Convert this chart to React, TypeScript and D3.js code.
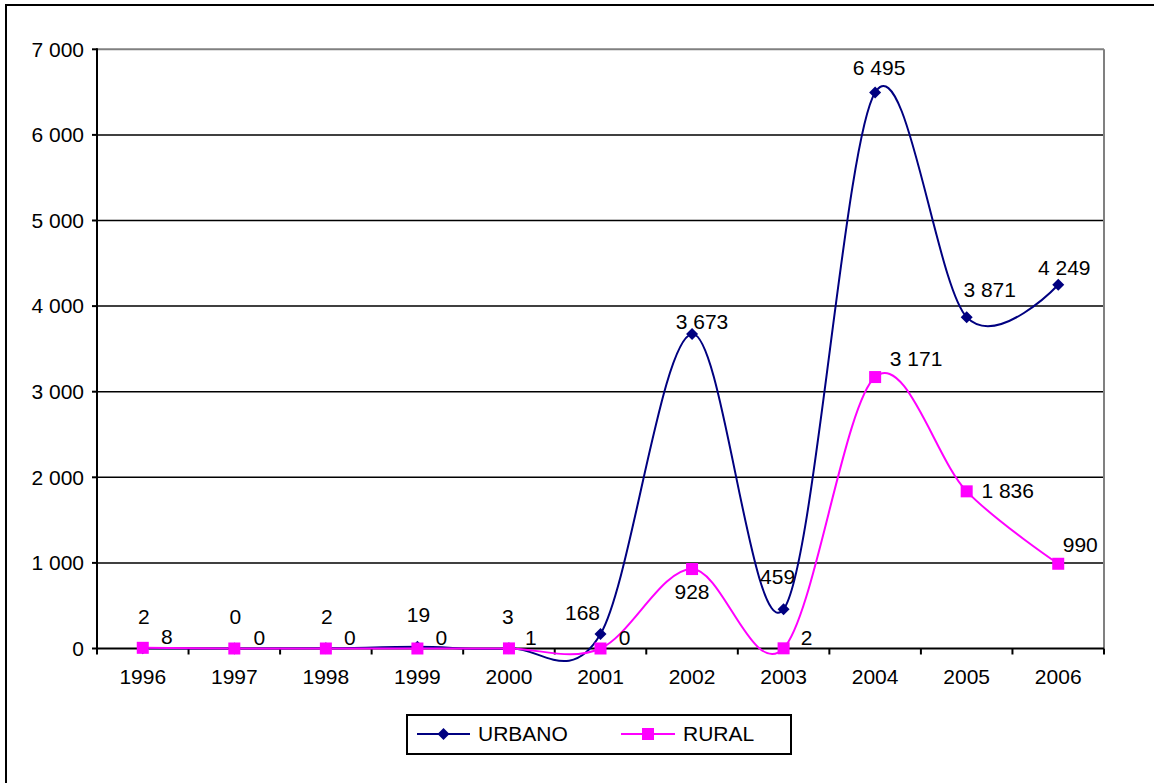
import React from "react";
import * as d3 from "d3";

const years = ["1996", "1997", "1998", "1999", "2000", "2001", "2002", "2003", "2004", "2005", "2006"];
const urbano = [2, 0, 2, 19, 3, 168, 3673, 459, 6495, 3871, 4249];
const rural = [8, 0, 0, 0, 1, 0, 928, 2, 3171, 1836, 990];
const yTicks = [0, 1000, 2000, 3000, 4000, 5000, 6000, 7000];
const seriesNames = ["URBANO", "RURAL"];

// label offsets (dx, dy) from the point, as placed in the original chart
const urbanoLabelOffsets: [number, number][] = [
  [1, -32], [1, -32], [1, -32], [1, -32], [-1, -32], [-18, -21], [10, -12], [-6, -33], [4, -25], [23, -27], [6, -17],
];
const ruralLabelOffsets: [number, number][] = [
  [24, -11], [25, -11], [24, -11], [24, -11], [22, -11], [24, -11], [0, 23], [23, -11], [41, -18], [41, -1], [22, -19],
];

const fmt = (v: number) => d3.format(",")(v).replace(/,/g, " ");

const W = 1154;
const H = 783;
const left = 97;
const right = 1104;
const top = 49.3;
const bottom = 648.5;
const FONT = "'Liberation Sans', Arial, sans-serif";
const FS = 21;

export default function App() {
  const x = d3.scaleBand<string>().domain(years).range([left, right]);
  const y = d3.scaleLinear().domain([0, 7000]).range([bottom, top]);
  const cx = (i: number) => (x(years[i]) as number) + x.bandwidth() / 2;
  const line = d3
    .line<number>()
    .x((_, i) => cx(i))
    .y((d) => y(d))
    .curve(d3.curveCardinal.tension(0));

  const navy = "#000080";
  const magenta = "#FF00FF";

  const diamond = (px: number, py: number, s: number) =>
    `M${px},${py - s}L${px + s},${py}L${px},${py + s}L${px - s},${py}Z`;

  const bandEdges = years.map((yr) => x(yr) as number).concat([right]);

  return (
    <svg
      width={W}
      height={H}
      style={{ position: "absolute", left: 0, top: 0, background: "#fff" }}
      fontFamily={FONT}
    >
      <rect x={0} y={0} width={W} height={H} fill="#fff" />
      <rect x={6} y={5} width={W + 20} height={H + 20} fill="none" stroke="#000" strokeWidth={2} />

      {/* gridlines */}
      {yTicks.slice(1, -1).map((t) => (
        <line key={t} x1={left} x2={right} y1={y(t)} y2={y(t)} stroke="#000" strokeWidth={1.5} />
      ))}
      {/* plot border top/right gray */}
      <line x1={left} x2={right} y1={y(7000)} y2={y(7000)} stroke="#808080" strokeWidth={2} />
      <line x1={right} x2={right} y1={top} y2={bottom} stroke="#808080" strokeWidth={2} />

      {/* y axis */}
      <line x1={left} x2={left} y1={top - 1} y2={bottom + 1} stroke="#000" strokeWidth={2} />
      {yTicks.map((t) => (
        <g key={t}>
          <line x1={left - 5} x2={left} y1={y(t)} y2={y(t)} stroke="#000" strokeWidth={2} />
          <text x={84} y={y(t)} dy="0.35em" textAnchor="end" fontSize={FS} fill="#000">
            {fmt(t)}
          </text>
        </g>
      ))}

      {/* x axis */}
      <line x1={left} x2={right} y1={bottom} y2={bottom} stroke="#000" strokeWidth={2} />
      {bandEdges.map((e, i) => (
        <line key={i} x1={e} x2={e} y1={bottom} y2={bottom + 6} stroke="#000" strokeWidth={2} />
      ))}
      {years.map((yr, i) => (
        <text key={yr} x={cx(i)} y={677} dy="0.35em" textAnchor="middle" fontSize={FS} fill="#000">
          {yr}
        </text>
      ))}

      {/* series lines */}
      <path d={line(urbano) || ""} fill="none" stroke={navy} strokeWidth={2} />
      <path d={line(rural) || ""} fill="none" stroke={magenta} strokeWidth={2} />

      {/* markers */}
      {urbano.map((v, i) => (
        <path key={"u" + i} d={diamond(cx(i), y(v), 6)} fill={navy} />
      ))}
      {rural.map((v, i) => (
        <rect key={"r" + i} x={cx(i) - 6} y={y(v) - 6} width={12} height={12} fill={magenta} />
      ))}

      {/* labels */}
      {urbano.map((v, i) => (
        <text
          key={"ul" + i}
          x={cx(i) + urbanoLabelOffsets[i][0]}
          y={y(v) + urbanoLabelOffsets[i][1]}
          dy="0.35em"
          textAnchor="middle"
          fontSize={FS}
          fill="#000"
        >
          {fmt(v)}
        </text>
      ))}
      {rural.map((v, i) => (
        <text
          key={"rl" + i}
          x={cx(i) + ruralLabelOffsets[i][0]}
          y={y(v) + ruralLabelOffsets[i][1]}
          dy="0.35em"
          textAnchor="middle"
          fontSize={FS}
          fill="#000"
        >
          {fmt(v)}
        </text>
      ))}

      {/* legend */}
      <rect x={407} y={715} width={384} height={39} fill="#fff" stroke="#000" strokeWidth={2} />
      <line x1={417} x2={470} y1={734} y2={734} stroke={navy} strokeWidth={2} />
      <path d={diamond(443.5, 734, 6)} fill={navy} />
      <text x={478} y={734} dy="0.35em" fontSize={FS} fill="#000">
        {seriesNames[0]}
      </text>
      <line x1={621} x2={675} y1={734} y2={734} stroke={magenta} strokeWidth={2} />
      <rect x={642} y={728} width={12} height={12} fill={magenta} />
      <text x={683} y={734} dy="0.35em" fontSize={FS} fill="#000">
        {seriesNames[1]}
      </text>
    </svg>
  );
}
